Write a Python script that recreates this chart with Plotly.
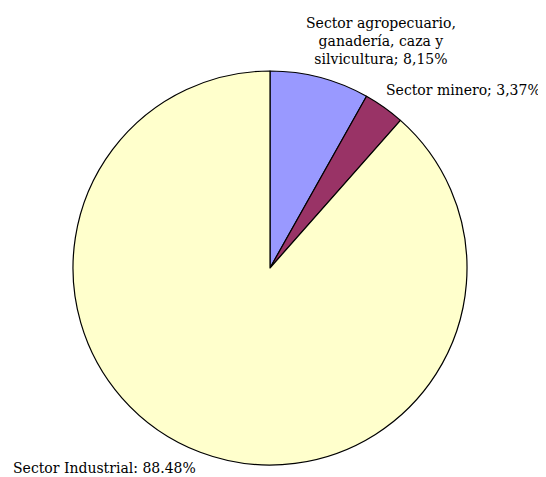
import plotly.graph_objects as go

# Sector shares (%)
sectors = ['Sector agropecuario, ganadería, caza y silvicultura', 'Sector minero', 'Sector Industrial']
shares = [8.15, 3.37, 88.48]
colors = ['#9999FF', '#993366', '#FFFFCC']
label_texts = [
    'Sector agropecuario,<br>ganadería, caza y<br>silvicultura; 8,15%',
    'Sector minero; 3,37%',
    'Sector Industrial: 88.48%',
]

# the page body keeps its 8px margin, so the figure fills the rest of the window
W, H = 538, 469
cx, cy, r = 262, 260, 197  # pixel centre and radius of the pie inside the figure

fig = go.Figure(go.Pie(
    labels=sectors,
    values=shares,
    sort=False,
    direction='clockwise',
    rotation=0,
    textinfo='none',
    hoverinfo='label+percent',
    marker=dict(colors=colors, line=dict(color='black', width=1.2)),
    domain=dict(x=[(cx - r) / W, (cx + r) / W], y=[(H - cy - r) / H, (H - cy + r) / H]),
    showlegend=False,
))

# label positions in figure pixels (x, y-middle, xanchor, align)
label_pos = [(373, 33, 'center', 'center'), (535, 82, 'right', 'right'), (3, 460, 'left', 'left')]
for txt, (px, py, xa, al) in zip(label_texts, label_pos):
    fig.add_annotation(
        text=txt, x=px / W, y=1 - py / H, xref='paper', yref='paper',
        xanchor=xa, yanchor='middle', align=al,
        showarrow=False, font=dict(family='DejaVu Serif', size=14, color='black'),
    )

fig.update_layout(
    width=W, height=H,
    margin=dict(l=0, r=0, t=0, b=0),
    paper_bgcolor='white',
    plot_bgcolor='white',
)

fig.write_html("out.html")
